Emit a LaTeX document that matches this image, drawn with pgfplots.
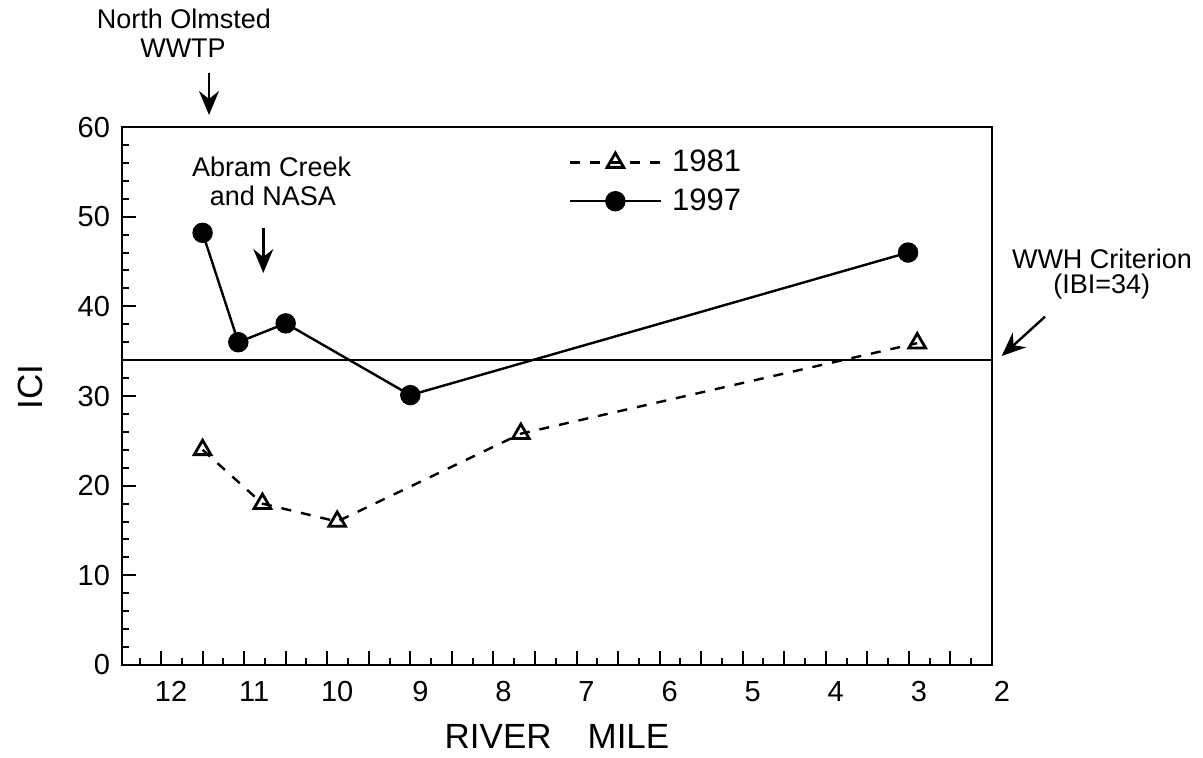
\documentclass[border=0pt]{standalone}
\usepackage{fontspec}
\setmainfont{Liberation Sans}
\usepackage{pgfplots}
\pgfplotsset{compat=1.18}
\usetikzlibrary{arrows.meta}
\begin{document}
\begin{tikzpicture}
\useasboundingbox (-61pt,-46pt) rectangle (540.5pt,332.5pt);
\begin{axis}[
  at={(0,0)}, anchor=south west,
  scale only axis, width=435pt, height=269pt,
  x dir=reverse,
  xmin=2, xmax=12.47, ymin=0, ymax=60,
  axis line style={line width=1pt},
  every tick/.style={black, line width=1pt},
  tick pos=left, tick align=inside,
  xtick={2,3,...,12},
  extra x ticks={2.5,3.5,4.5,5.5,6.5,7.5,8.5,9.5,10.5,11.5},
  extra x tick labels={},
  extra x tick style={major tick length=7pt, grid=none},
  minor xtick={2.25,2.75,3.25,3.75,4.25,4.75,5.25,5.75,6.25,6.75,7.25,7.75,8.25,8.75,9.25,9.75,10.25,10.75,11.25,11.75,12.25},
  ytick={0,10,...,60},
  minor y tick num=4,
  major tick length=7pt, minor tick length=3.5pt,
  /pgf/number format/assume math mode=true,
  xticklabel style={font=\fontsize{14.5}{16}\selectfont, xshift=5pt, yshift=-4.5pt},
  yticklabel style={font=\fontsize{14.5}{16}\selectfont, xshift=-2.5pt},
  xlabel={RIVER\hspace{18pt}MILE},
  xlabel style={font=\fontsize{17.5}{20}\selectfont, at={(axis description cs:0.5,-0.155)}, anchor=base},
  ylabel={ICI},
  ylabel style={font=\fontsize{17.5}{20}\selectfont, at={(axis description cs:-0.105,0.517)}, anchor=center},
  clip=false,
  legend cell align=left,
  legend style={draw=none, fill=none, font=\fontsize{15.5}{18}\selectfont,
    at={(axis description cs:0.513,0.965)}, anchor=north west,
    inner xsep=0pt, inner ysep=0pt, row sep=3pt,
    /tikz/every odd column/.append style={column sep=3pt},
    /tikz/every even column/.append style={column sep=9pt}},
  legend image code/.code={
    \draw[#1, mark=none] (0pt,0pt) -- (45.5pt,0pt);
    \draw[#1, draw=none] plot coordinates {(22.75pt,0pt)};
  },
]
\addplot[line width=1.2pt, dash pattern=on 5pt off 5pt, mark=triangle, mark size=4.8pt,
  mark options={solid, line width=1.4pt, fill=white}]
  coordinates {(11.5,24) (10.78,18) (9.88,16) (7.67,25.8) (2.9,35.9)};
\addlegendentry{1981}
\addplot[line width=1.2pt, mark=*, mark size=4.5pt, mark options={solid, fill=black}]
  coordinates {(11.5,48.2) (11.07,36) (10.5,38.1) (9.0,30.1) (3.01,46)};
\addlegendentry{1997}
\addplot[line width=1.2pt, forget plot] coordinates {(2,34) (12.47,34)};
\end{axis}
\begin{scope}[font=\fontsize{13.5}{16}\selectfont]
\node[anchor=base] at (31pt,318.5pt) {North Olmsted};
\node[anchor=base] at (30.5pt,304pt) {WWTP};
\node[anchor=base] at (74.85pt,244.15pt) {Abram Creek};
\node[anchor=base] at (75.5pt,230pt) {and NASA};
\node[anchor=base] at (490pt,198.35pt) {WWH Criterion};
\node[anchor=base] at (489.85pt,185.85pt) {(IBI=34)};
\end{scope}
\begin{scope}[line width=1.2pt, -{Stealth[length=12pt, width=10pt, inset=4pt]}]
\draw (43.5pt,296pt) -- (43.5pt,275pt);
\draw (70.65pt,218.5pt) -- (70.65pt,196pt);
\draw (461.5pt,174.15pt) -- (439.85pt,154.5pt);
\end{scope}
\end{tikzpicture}
\end{document}
